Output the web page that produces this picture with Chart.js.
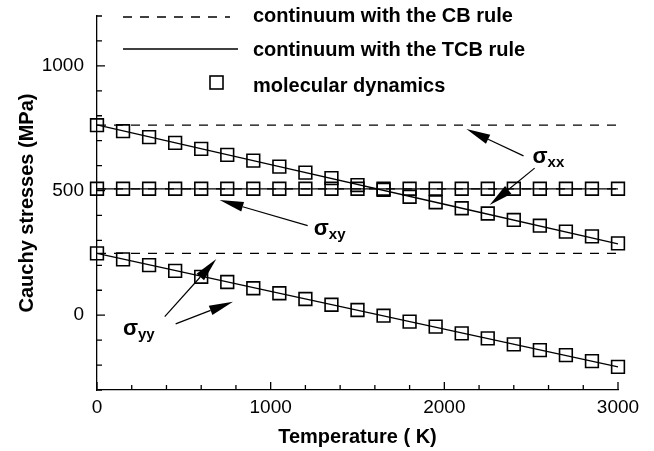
<!DOCTYPE html>
<html>
<head>
<meta charset="utf-8">
<script src="https://cdn.jsdelivr.net/npm/chart.js@4.4.0/dist/chart.umd.min.js"></script>
<style>
  html, body { margin: 0; padding: 0; background: #fff; }
  #wrap { width: 654px; height: 451px; }
</style>
</head>
<body>
<div id="wrap"><canvas id="stressChart" width="654" height="451"></canvas></div>
<script>
// molecular dynamics samples (temperature in K, stress in MPa)
const temperature = [0, 150, 300, 450, 600, 750, 900, 1050, 1200, 1350, 1500,
    1650, 1800, 1950, 2100, 2250, 2400, 2550, 2700, 2850, 3000];
const mdSxx = [762, 738, 714, 691, 667, 643, 620, 596, 572, 550, 522,
    503, 475, 453, 429, 408, 382, 359, 335, 316, 288];
const mdSxy = [507, 507, 507, 507, 507, 507, 507, 507, 507, 507, 507,
    507, 507, 507, 507, 507, 507, 507, 507, 507, 507];
const mdSyy = [248, 224, 201, 178, 154, 133, 108, 88, 65, 42, 21,
    -2, -26, -46, -73, -93, -117, -140, -160, -184, -207];

// continuum with the CB rule (no temperature dependence)
const cbTemp = [0, 3000];
const cbSxx = [762, 762];
const cbSxy = [507, 507];
const cbSyy = [248, 248];

// continuum with the TCB rule
const tcbTemp = [0, 1000, 2000, 3000];
const tcbSxx = [763, 604, 445, 286];
const tcbSxy = [507, 507, 507, 507];
const tcbSyy = [248, 96, -56, -207];

const legendLabels = ["continuum with the CB rule", "continuum with the TCB rule", "molecular dynamics"];

const FONT = "'Liberation Sans', Arial, Helvetica, sans-serif";

function pts(xs, ys) {
    return xs.map((x, i) => ({ x: x, y: ys[i] }));
}

function cbSet(ys) {
    return { data: pts(cbTemp, ys), showLine: true, borderColor: "#000", borderWidth: 1.3,
        borderDash: [9, 8], pointRadius: 0, clip: false };
}
function tcbSet(ys) {
    return { data: pts(tcbTemp, ys), showLine: true, borderColor: "#000", borderWidth: 1.3,
        pointRadius: 0, clip: false };
}
function mdSet(ys) {
    return { data: pts(temperature, ys), showLine: false, pointStyle: "rect", pointRadius: 9,
        pointBorderWidth: 1.6, pointBorderColor: "#000", pointBackgroundColor: "rgba(0,0,0,0)", clip: false };
}

// arrows + sigma labels, in data coordinates
const arrowNotes = [
    { from: [2456, 639], to: [2127, 747] },
    { from: [2520, 590], to: [2261, 442] },
    { from: [1213, 359], to: [706, 462] },
    { from: [390, -6], to: [687, 225] },
    { from: [453, -35], to: [783, 54] },
];
const sigmaNotes = [
    { at: [2508, 609], sub: "xx" },
    { at: [1248, 320], sub: "xy" },
    { at: [149, -79], sub: "yy" },
];

const inwardTicks = {
    id: "inwardTicks",
    afterDraw(chart) {
        const ctx = chart.ctx;
        const xs = chart.scales.x, ys = chart.scales.y;
        const a = chart.chartArea;
        ctx.save();
        ctx.strokeStyle = "#000";
        ctx.lineWidth = 1.3;
        ctx.beginPath();
        xs.ticks.forEach(t => {
            const px = xs.getPixelForValue(t.value);
            const len = t.value % 1000 === 0 ? 8 : 5;
            ctx.moveTo(px, a.bottom);
            ctx.lineTo(px, a.bottom - len);
        });
        ys.ticks.forEach(t => {
            const py = ys.getPixelForValue(t.value);
            const len = t.value % 500 === 0 ? 8 : 5;
            ctx.moveTo(a.left, py);
            ctx.lineTo(a.left + len, py);
        });
        ctx.stroke();
        ctx.restore();
    }
};

const keyBox = {
    id: "keyBox",
    afterDraw(chart) {
        const ctx = chart.ctx;
        const a = chart.chartArea;
        const x0 = a.left + 26;
        ctx.save();
        ctx.strokeStyle = "#000";
        ctx.lineWidth = 1.3;
        ctx.setLineDash([9, 8]);
        ctx.beginPath();
        ctx.moveTo(x0, a.top + 1);
        ctx.lineTo(x0 + 107, a.top + 1);
        ctx.stroke();
        ctx.setLineDash([]);
        ctx.beginPath();
        ctx.moveTo(x0, a.top + 33);
        ctx.lineTo(x0 + 115, a.top + 33);
        ctx.stroke();
        ctx.lineWidth = 1.6;
        ctx.strokeRect(a.left + 113, a.top + 60, 13, 13);
        ctx.fillStyle = "#000";
        ctx.font = "bold 20px " + FONT;
        ctx.textBaseline = "middle";
        ctx.textAlign = "left";
        const tx = a.left + 156;
        ctx.fillText(legendLabels[0], tx, a.top + 0);
        ctx.fillText(legendLabels[1], tx, a.top + 34);
        ctx.fillText(legendLabels[2], tx, a.top + 70);
        ctx.restore();
    }
};

const notes = {
    id: "notes",
    afterDraw(chart) {
        const ctx = chart.ctx;
        const xs = chart.scales.x, ys = chart.scales.y;
        ctx.save();
        ctx.strokeStyle = "#000";
        ctx.fillStyle = "#000";
        ctx.lineWidth = 1.2;
        arrowNotes.forEach(n => {
            const x1 = xs.getPixelForValue(n.from[0]), y1 = ys.getPixelForValue(n.from[1]);
            const x2 = xs.getPixelForValue(n.to[0]), y2 = ys.getPixelForValue(n.to[1]);
            const ang = Math.atan2(y2 - y1, x2 - x1);
            const hl = 24, hw = 5;
            const bx = x2 - hl * Math.cos(ang), by = y2 - hl * Math.sin(ang);
            ctx.beginPath();
            ctx.moveTo(x1, y1);
            ctx.lineTo(bx, by);
            ctx.stroke();
            ctx.beginPath();
            ctx.moveTo(x2, y2);
            ctx.lineTo(bx + hw * Math.sin(ang), by - hw * Math.cos(ang));
            ctx.lineTo(bx - hw * Math.sin(ang), by + hw * Math.cos(ang));
            ctx.closePath();
            ctx.fill();
        });
        ctx.textBaseline = "alphabetic";
        ctx.textAlign = "left";
        sigmaNotes.forEach(n => {
            const px = xs.getPixelForValue(n.at[0]), py = ys.getPixelForValue(n.at[1]);
            ctx.font = "bold 22px " + FONT;
            ctx.fillText("σ", px, py);
            const w = ctx.measureText("σ").width;
            ctx.font = "bold 15px " + FONT;
            ctx.fillText(n.sub, px + w, py + 4);
        });
        ctx.restore();
    }
};

new Chart(document.getElementById("stressChart"), {
    type: "scatter",
    data: {
        datasets: [
            cbSet(cbSxx), cbSet(cbSxy), cbSet(cbSyy),
            tcbSet(tcbSxx), tcbSet(tcbSxy), tcbSet(tcbSyy),
            mdSet(mdSxx), mdSet(mdSxy), mdSet(mdSyy),
        ],
    },
    options: {
        responsive: false,
        animation: false,
        events: [],
        layout: { padding: { top: 16, right: 36, left: 0, bottom: 0 } },
        plugins: {
            legend: { display: false },
            title: { display: false },
            tooltip: { enabled: false },
        },
        scales: {
            x: {
                type: "linear",
                min: 0,
                max: 3000,
                afterFit: s => { s.height = 61; s.paddingLeft = 0; s.paddingRight = 0; },
                grid: { display: false, drawTicks: false },
                border: { display: true, color: "#000", width: 1.3 },
                ticks: {
                    stepSize: 200,
                    autoSkip: false,
                    maxRotation: 0,
                    padding: 6,
                    color: "#000",
                    font: { family: FONT, size: 19 },
                    callback: v => (v % 1000 === 0 ? String(v) : ""),
                },
                title: {
                    display: true,
                    text: "Temperature ( K)",
                    color: "#000",
                    font: { family: FONT, size: 20, weight: "bold" },
                    padding: { top: 0, bottom: 2 },
                },
            },
            y: {
                type: "linear",
                min: -300,
                max: 1200,
                afterFit: s => { s.width = 97; s.paddingTop = 0; s.paddingBottom = 0; },
                grid: { display: false, drawTicks: false },
                border: { display: true, color: "#000", width: 1.3 },
                ticks: {
                    stepSize: 100,
                    autoSkip: false,
                    padding: 13,
                    color: "#000",
                    font: { family: FONT, size: 19 },
                    callback: v => (v % 500 === 0 ? String(v) : ""),
                },
                title: {
                    display: true,
                    text: "Cauchy stresses (MPa)",
                    color: "#000",
                    font: { family: FONT, size: 20, weight: "bold" },
                    padding: { top: 15, bottom: 0 },
                },
            },
        },
    },
    plugins: [inwardTicks, keyBox, notes],
});
</script>
</body>
</html>
